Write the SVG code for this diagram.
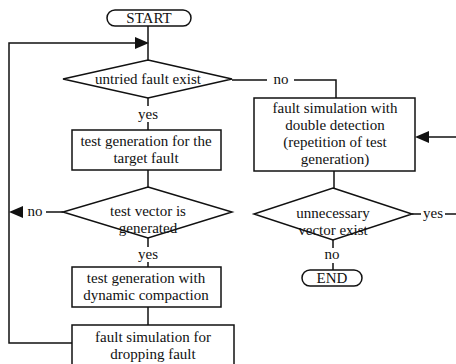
<svg xmlns="http://www.w3.org/2000/svg" width="456" height="364" viewBox="0 0 456 364">
<style>
.s{fill:#fff;stroke:#111;stroke-width:1.5}
.c{fill:none;stroke:#111;stroke-width:1.5}
.a{fill:#111;stroke:none}
.t{font-size:15px;fill:#111;text-anchor:middle}
</style>
<rect width="456" height="364" fill="#fff"/>
<g id="connectors">
<path class="c" d="M148,26 V60"/>
<path class="c" d="M72,343 H9 V43 H136"/>
<polygon class="a" points="149,43 135,37 135,49"/>
<path class="c" d="M148,98 V106 M148,122 V130"/>
<path class="c" d="M232,80 H267 M294,80 H336 V98"/>
<path class="c" d="M148,170 V187"/>
<path class="c" d="M148,238 V247 M148,262 V267"/>
<path class="c" d="M63,212 H46"/>
<polygon class="a" points="9,212 23,206 23,218"/>
<path class="c" d="M148,307 V325"/>
<path class="c" d="M334,171 V188"/>
<path class="c" d="M333,240 V248 M333,263 V270"/>
<path class="c" d="M412,214 H421 M445,214 H456"/>
<path class="c" d="M456,137 H428"/>
<polygon class="a" points="415,137 429,131 429,143"/>
</g>
<g font-family="'Liberation Serif','Times New Roman','DejaVu Serif',serif">
<g id="start">
<rect class="s" x="107" y="10" width="84" height="16" rx="8"/>
<text class="t" x="149" y="23">START</text>
</g>
<g id="untried">
<polygon class="s" points="148,60 232,79 148,98 63,79"/>
<text class="t" x="148" y="84">untried fault exist</text>
</g>
<text class="t" x="148" y="119">yes</text>
<text class="t" x="281" y="84">no</text>
<g id="testgen">
<rect class="s" x="72" y="130" width="149" height="40"/>
<text class="t" x="146" y="146">test generation for the</text>
<text class="t" x="146" y="163">target fault</text>
</g>
<g id="vector">
<polygon class="s" points="148,187 232,212 148,238 63,212"/>
<text class="t" x="148" y="216">test vector is</text>
<text class="t" x="148" y="233">generated</text>
</g>
<text class="t" x="35" y="216">no</text>
<text class="t" x="148" y="259">yes</text>
<g id="dyncomp">
<rect class="s" x="72" y="267" width="149" height="40"/>
<text class="t" x="146" y="283">test generation with</text>
<text class="t" x="146" y="300">dynamic compaction</text>
</g>
<g id="faultsim">
<rect class="s" x="72" y="325" width="162" height="50"/>
<text class="t" x="153" y="342">fault simulation for</text>
<text class="t" x="153" y="359">dropping fault</text>
</g>
<g id="double">
<rect class="s" x="254" y="98" width="161" height="73"/>
<text class="t" x="335" y="113">fault simulation with</text>
<text class="t" x="335" y="130">double detection</text>
<text class="t" x="335" y="147">(repetition of test</text>
<text class="t" x="335" y="164">generation)</text>
</g>
<g id="unnecessary">
<polygon class="s" points="333,188 412,214 333,240 254,214"/>
<text class="t" x="333" y="218">unnecessary</text>
<text class="t" x="333" y="235">vector exist</text>
</g>
<text class="t" x="433" y="218">yes</text>
<text class="t" x="332" y="259">no</text>
<g id="end">
<rect class="s" x="302" y="270" width="60" height="16" rx="8"/>
<text class="t" x="332" y="283">END</text>
</g>
</g>
</svg>
